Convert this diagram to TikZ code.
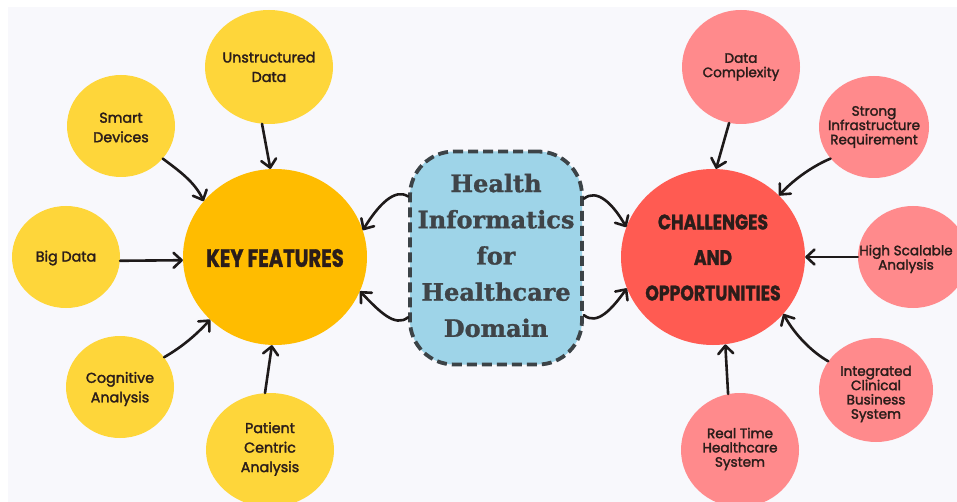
\documentclass[tikz,border=0pt]{standalone}
\usepackage{fontspec}
\usepackage{graphicx}
\usetikzlibrary{shapes.geometric,arrows.meta}
\newfontfamily\qfont[FakeBold=2]{Poppins}
\newfontfamily\dfont[FakeBold=1.5]{Poppins}
\newfontfamily\slabfont[FakeBold=1.2]{DejaVu Serif}
\definecolor{bgc}{HTML}{F8F8FC}
\definecolor{ylw}{HTML}{FED63A}
\definecolor{org}{HTML}{FFBC00}
\definecolor{pnk}{HTML}{FF8A8C}
\definecolor{rd}{HTML}{FF5B52}
\definecolor{blu}{HTML}{9ED4E8}
\definecolor{bord}{HTML}{3C4347}
\definecolor{slab}{HTML}{3F4448}
\definecolor{txtc}{HTML}{2B1D1A}
\definecolor{arrc}{HTML}{1E1A1A}
\begin{document}
\begin{tikzpicture}[x=1pt,y=-1pt,
  blob/.style={ellipse, inner sep=0pt, draw=none},
  ybig/.style={blob, fill=ylw, minimum width=128pt, minimum height=114pt},
  ysmall/.style={blob, fill=ylw, minimum width=108pt, minimum height=102pt},
  pbig/.style={blob, fill=pnk, minimum width=118pt, minimum height=114pt},
  psmall/.style={blob, fill=pnk, minimum width=110pt, minimum height=102pt},
  ltxt/.style={font=\qfont\fontsize{14.3}{19.5}\selectfont, align=center, text=txtc, inner sep=0pt},
  rtxt/.style={font=\qfont\fontsize{13.6}{14.3}\selectfont, align=center, text=txtc, inner sep=0pt},
  hub/.style={blob, minimum width=184pt, minimum height=176pt},
  dtxt/.style={font=\dfont\bfseries, align=center, text=txtc, inner sep=0pt},
  arr/.style={draw=arrc, line width=2.6pt, line cap=round,
    -{Straight Barb[length=8pt,width=15pt,line cap=round,line join=round]}},
  centerbox/.style={draw=bord, fill=blu, line width=3.8pt, dash pattern=on 10pt off 5pt,
    rounded corners=44pt, minimum width=172pt, minimum height=213pt, inner sep=0pt}
]
\useasboundingbox (0,0) rectangle (957,502);
\fill[bgc] (8,7) rectangle (957,502);

% left side
\node[ybig] (ud) at (269,67) {};
\node[ltxt] (udt) at (269,67) {Unstructured\\Data};
\node[ysmall] (sd) at (121,126) {};
\node[ltxt] (sdt) at (121,127.5) {Smart\\Devices};
\node[ysmall] (bd) at (66,257) {};
\node[ltxt] (bdt) at (66,258) {Big Data};
\node[ysmall] (ca) at (120,387) {};
\node[ltxt] (cat) at (120,389) {Cognitive\\Analysis};
\node[ybig] (pca) at (270,450) {};
\node[ltxt] (pcat) at (270,449) {Patient\\Centric\\Analysis};
\node[hub, fill=org] (kf) at (275,257) {};
\node[dtxt, font=\dfont\bfseries\fontsize{25}{30}\selectfont] (kft) at (275,258) {\scalebox{0.78}[1]{KEY FEATURES}};

% right side
\node[pbig] (dc) at (741,67) {};
\node[rtxt] (dct) at (741,67) {Data\\Complexity};
\node[psmall] (si) at (874,127) {};
\node[rtxt] (sit) at (874,127) {Strong\\Infrastructure\\Requirement};
\node[psmall] (hs) at (913,257) {};
\node[rtxt] (hst) at (906,259) {High Scalable\\Analysis};
\node[psmall, minimum width=114pt, minimum height=104pt] (ic) at (876,390) {};
\node[rtxt] (ict) at (876,394) {Integrated\\Clinical\\Business\\System};
\node[pbig] (rt) at (740,450) {};
\node[rtxt] (rtt) at (740,449) {Real Time\\Healthcare\\System};
\node[hub, fill=rd] (ch) at (713,257) {};
\node[dtxt, font=\dfont\bfseries\fontsize{21}{35.5}\selectfont] (cht) at (713,257.5)
  {\scalebox{0.82}[1]{CHALLENGES}\\\scalebox{0.82}[1]{AND}\\\scalebox{0.82}[1]{OPPORTUNITIES}};

% center
\node[centerbox] (hc) at (496,258) {};
\node[align=center, text=slab, inner sep=0pt, font=\slabfont\bfseries\fontsize{24}{36.2}\selectfont] (hct) at (496,255.5) {Health\\Informatics\\for\\Healthcare\\Domain};

% connectors left
\draw[arr] (ud.263) -- (kf.93);
\draw[arr] (sd.322) .. controls (178,170) and (195,182) .. (kf.142);
\draw[arr] (bd.-4) -- (kf.182);
\draw[arr] (ca.34) .. controls (182,347) and (196,335) .. (kf.224);
\draw[arr] (pca.95) -- (kf.268);
\draw[arr] (hc.145) .. controls (395,188) and (379,204) .. (kf.17);
\draw[arr] (hc.214) .. controls (395,328) and (379,311) .. (kf.338);

% connectors right
\draw[arr] (hc.34) .. controls (597,188) and (613,204) .. (ch.161);
\draw[arr] (hc.327) .. controls (597,326) and (612,309) .. (ch.200);
\draw[arr] (dc.258) -- (ch.88);
\draw[arr] (si.216) .. controls (815,165) and (795,178) .. (ch.43);
\draw[arr] (hs.180) -- (ch.0);
\draw[arr] (ic.149) .. controls (812,352) and (795,335) .. (ch.321);
\draw[arr] (rt.102) -- (ch.278);
\end{tikzpicture}
\end{document}
